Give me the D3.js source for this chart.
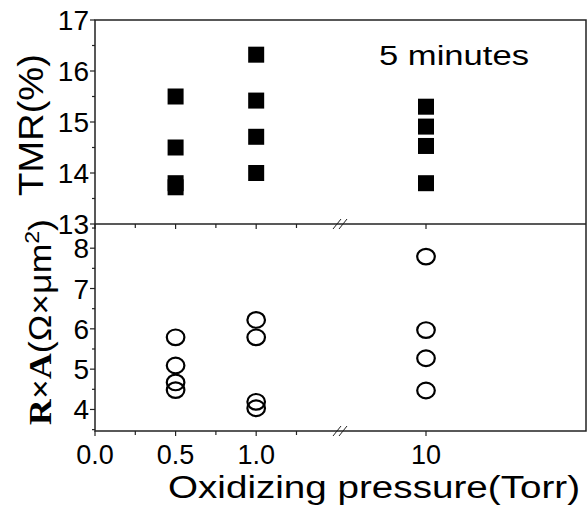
<!DOCTYPE html>
<html>
<head>
<meta charset="utf-8">
<script src="https://cdn.jsdelivr.net/npm/d3@7"></script>
<style>
  body { margin: 0; background: #fff; }
  svg { font-family: "Liberation Sans", Arial, sans-serif; }
</style>
</head>
<body>
<svg id="chart" width="587" height="512"></svg>
<script>
// data
var pressures = [0.5, 1.0, 10];
var tmrValues = [
    [15.5, 14.5, 13.8, 13.72],
    [16.32, 15.42, 14.71, 14.0],
    [15.3, 14.91, 14.53, 13.8]
];
var raValues = [
    [5.79, 5.09, 4.67, 4.48],
    [6.22, 5.79, 4.19, 4.03],
    [7.79, 5.97, 5.27, 4.47]
];
var xMajor = [0, 0.5, 1.0, 10];
var xMinor = [0.25, 0.75, 1.25];
var xLabels = ["0.0", "0.5", "1.0", "10"];
var tmrTicks = [13, 14, 15, 16, 17];
var tmrMinor = [13.5, 14.5, 15.5, 16.5];
var raTicks = [4, 5, 6, 7, 8];
var raMinor = [3.5, 4.5, 5.5, 6.5, 7.5, 8.5];
var xBreak = 1.52;

var svg = d3.select("#chart");
var plotL = 95, plotR = 586, plotT = 20, plotM = 224, plotB = 431;

// broken x axis: linear up to the break, then compressed
var x = d3.scaleLinear().domain([0, xBreak, 10, 15]).range([plotL, 340, 426, plotR]);
var yTop = d3.scaleLinear().domain([13, 17]).range([plotM, plotT]);
var yBot = d3.scaleLinear().domain([3.466, 8.6]).range([plotB, plotM]);

var ink = "#222";

// frame
svg.append("rect")
    .attr("x", plotL).attr("y", plotT)
    .attr("width", plotR - plotL).attr("height", plotB - plotT)
    .attr("fill", "none").attr("stroke", ink).attr("stroke-width", 1.5);
svg.append("line")
    .attr("x1", plotL).attr("x2", plotR).attr("y1", plotM).attr("y2", plotM)
    .attr("stroke", ink).attr("stroke-width", 1.5);

// x ticks on divider and bottom axis
[plotM, plotB].forEach(function(yy) {
    svg.selectAll(null).data(xMajor.concat(xMinor)).enter().append("line")
        .attr("x1", function(d) { return x(d); })
        .attr("x2", function(d) { return x(d); })
        .attr("y1", yy)
        .attr("y2", function(d) { return yy + (xMajor.indexOf(d) >= 0 ? 5 : 4); })
        .attr("stroke", ink).attr("stroke-width", 1.2);
    // break marks
    [-3, 3].forEach(function(off) {
        svg.append("line")
            .attr("x1", x(xBreak) + off - 4).attr("y1", yy + 5)
            .attr("x2", x(xBreak) + off + 4).attr("y2", yy - 5)
            .attr("stroke", ink).attr("stroke-width", 1);
    });
});

svg.selectAll(".xlab").data(xMajor).enter().append("text")
    .attr("class", "xlab")
    .attr("x", function(d) { return x(d); })
    .attr("y", 464)
    .attr("text-anchor", "middle")
    .attr("font-size", 27)
    .text(function(d, i) { return xLabels[i]; });

// y ticks
function yTicks(scale, major, minor) {
    svg.selectAll(null).data(major).enter().append("line")
        .attr("x1", plotL - 5).attr("x2", plotL)
        .attr("y1", function(d) { return scale(d); })
        .attr("y2", function(d) { return scale(d); })
        .attr("stroke", ink).attr("stroke-width", 1.2);
    svg.selectAll(null).data(minor).enter().append("line")
        .attr("x1", plotL - 3).attr("x2", plotL)
        .attr("y1", function(d) { return scale(d); })
        .attr("y2", function(d) { return scale(d); })
        .attr("stroke", ink).attr("stroke-width", 1.2);
    svg.selectAll(null).data(major).enter().append("text")
        .attr("x", 89)
        .attr("y", function(d) { return scale(d) + 10; })
        .attr("text-anchor", "end")
        .attr("font-size", 28)
        .text(function(d) { return d; });
}
yTicks(yTop, tmrTicks, tmrMinor);
yTicks(yBot, raTicks, raMinor);

// squares and circles
var sq = 16;
pressures.forEach(function(p, i) {
    svg.selectAll(null).data(tmrValues[i]).enter().append("rect")
        .attr("x", x(p) - sq / 2)
        .attr("y", function(d) { return yTop(d) - sq / 2; })
        .attr("width", sq).attr("height", sq)
        .attr("fill", "#000");
    svg.selectAll(null).data(raValues[i]).enter().append("ellipse")
        .attr("cx", x(p))
        .attr("cy", function(d) { return yBot(d); })
        .attr("rx", 8.8).attr("ry", 7.8)
        .attr("fill", "none").attr("stroke", "#000").attr("stroke-width", 2.2);
});

// labels
svg.append("text")
    .attr("x", 379).attr("y", 65)
    .attr("font-size", 27)
    .attr("textLength", 150).attr("lengthAdjust", "spacingAndGlyphs")
    .text("5 minutes");

svg.append("text")
    .attr("x", 168).attr("y", 498)
    .attr("font-size", 31)
    .attr("textLength", 412).attr("lengthAdjust", "spacingAndGlyphs")
    .text("Oxidizing pressure(Torr)");

svg.append("text")
    .attr("transform", "translate(43,196) rotate(-90)")
    .attr("font-size", 35)
    .attr("textLength", 142).attr("lengthAdjust", "spacingAndGlyphs")
    .text("TMR(%)");

var ra = svg.append("text")
    .attr("transform", "translate(51,425) rotate(-90)")
    .attr("font-size", 31)
    .attr("textLength", 206).attr("lengthAdjust", "spacingAndGlyphs");
ra.append("tspan")
    .attr("font-family", "'Liberation Serif', serif")
    .attr("font-weight", "bold")
    .text("R×A");
ra.append("tspan").text("(Ω×μm");
ra.append("tspan").attr("font-size", 20).attr("dy", -12).text("2");
ra.append("tspan").attr("dy", 12).text(")");
</script>
</body>
</html>
